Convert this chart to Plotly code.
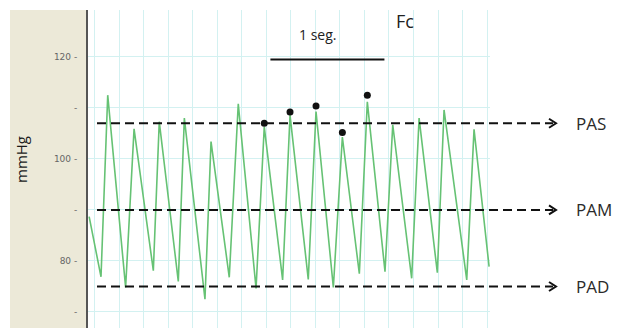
import plotly.graph_objects as go

# Arterial pressure trace: vertices (time in s, pressure in mmHg)
trace_t = [0.01, 0.114, 0.173, 0.33, 0.404, 0.573, 0.625, 0.792, 0.845, 1.026, 1.079,
           1.239, 1.318, 1.474, 1.546, 1.707, 1.772, 1.932, 2.0, 2.152, 2.231,
           2.38, 2.45, 2.605, 2.673, 2.839, 2.904, 3.064, 3.123, 3.322, 3.386, 3.518]
trace_p = [88.7, 76.9, 112.5, 74.8, 105.9, 78.1, 107.3, 76.0, 108.0, 72.5, 103.4,
           76.8, 110.8, 74.6, 106.3, 76.3, 108.6, 76.4, 109.3, 74.8, 104.3,
           77.5, 111.2, 77.9, 106.7, 76.6, 108.0, 77.7, 109.6, 76.3, 105.8, 78.9]

# Peaks marked for heart-rate (Fc) counting
mark_t = [1.546, 1.772, 2.0, 2.231, 2.45]
mark_p = [107.0, 109.2, 110.4, 105.2, 112.5]

# Reference pressure levels
level_names = ["PAS", "PAM", "PAD"]
level_values = [107, 90, 75]

# Y axis ticks
tick_vals = [70, 80, 90, 100, 110, 120]
tick_text = ["-", "80 -", "-", "100 -", "-", "120 -"]

# Time scale bar (1 second)
bar_start, bar_end = 1.6, 2.6

W, H = 629, 328
L, R, T, B = 88, 139, 10, 0
plot_w = W - L - R
px_unit = (H - T - B) / (129.2 - 66.86)


def xp(px):
    """Pixel column to paper x."""
    return (px - L) / plot_w


fig = go.Figure()

fig.add_trace(go.Scatter(
    x=trace_t, y=trace_p, mode="lines",
    line=dict(color="#66c274", width=1.6),
    hoverinfo="skip", showlegend=False,
))
fig.add_trace(go.Scatter(
    x=mark_t, y=mark_p, mode="markers",
    marker=dict(color="#111111", size=7),
    hoverinfo="skip", showlegend=False,
))

shapes = []
# beige side panel
shapes.append(dict(type="rect", xref="paper", yref="paper",
                   x0=xp(10), x1=xp(86), y0=0, y1=1.0,
                   fillcolor="#ECE9D8", line=dict(width=0), layer="below"))

annotations = []
arm = 4.5 / px_unit
for name, v in zip(level_names, level_values):
    shapes.append(dict(type="line", xref="paper", yref="y",
                       x0=xp(97), x1=xp(553), y0=v, y1=v,
                       line=dict(color="#111111", width=2, dash="9px,5px")))
    shapes.append(dict(type="path", xref="paper", yref="y",
                       path=f"M {xp(549)},{v + arm} L {xp(556)},{v} L {xp(549)},{v - arm}",
                       line=dict(color="#111111", width=2)))
    annotations.append(dict(text=name, xref="paper", yref="y",
                            x=xp(574), y=v, xanchor="left", yanchor="middle",
                            showarrow=False,
                            font=dict(family="Open Sans", size=17, color="#2a2a2a")))

# 1-second scale bar
shapes.append(dict(type="line", xref="x", yref="y",
                   x0=bar_start, x1=bar_end, y0=119.5, y1=119.5,
                   line=dict(color="#111111", width=2)))
annotations.append(dict(text="1 seg.", xref="paper", yref="paper",
                        x=xp(317), y=1 - (35 - T) / (H - T - B),
                        xanchor="center", yanchor="middle", showarrow=False,
                        font=dict(family="Open Sans", size=14, color="#222222")))
annotations.append(dict(text="Fc", xref="paper", yref="paper",
                        x=xp(394), y=1 - (21 - T) / (H - T - B),
                        xanchor="left", yanchor="middle", showarrow=False,
                        font=dict(family="Open Sans", size=18, color="#222222")))
annotations.append(dict(text="mmHg", xref="paper", yref="paper",
                        x=xp(21), y=1 - (160 - T) / (H - T - B),
                        xanchor="center", yanchor="middle", textangle=-90,
                        showarrow=False,
                        font=dict(family="Open Sans", size=15, color="#1a1a1a")))

fig.update_layout(
    width=W, height=H,
    margin=dict(l=L, r=R, t=T, b=B, pad=0),
    paper_bgcolor="white", plot_bgcolor="white",
    shapes=shapes, annotations=annotations,
    xaxis=dict(range=[0, 3.526], showgrid=True, gridcolor="#d3f1f1", gridwidth=1,
               dtick=0.215, tick0=0.06, showticklabels=False, ticks="",
               zeroline=False, showline=False, fixedrange=True),
    yaxis=dict(range=[66.86, 129.2], tickvals=tick_vals, ticktext=tick_text,
               showgrid=True, gridcolor="#d3f1f1", gridwidth=1,
               ticks="", ticklabelstandoff=7, zeroline=False,
               showline=True, linecolor="#555555", linewidth=2,
               tickfont=dict(family="DejaVu Sans", size=9, color="#666666"),
               fixedrange=True),
)

fig.write_html("out.html", config={"displayModeBar": False})
